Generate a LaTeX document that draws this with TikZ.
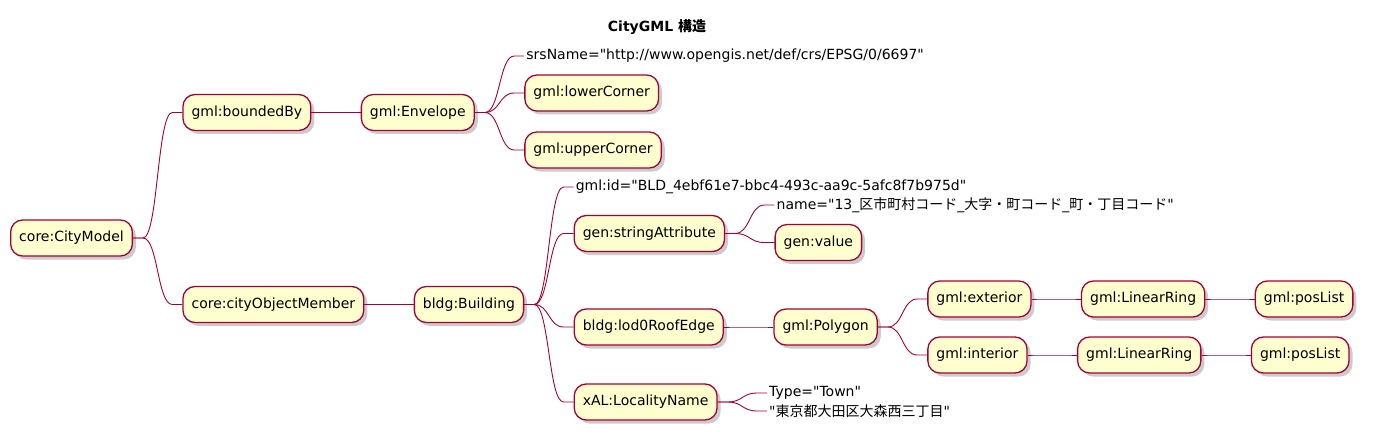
\documentclass[tikz,border=0pt]{standalone}
\usepackage{fontspec}
\setmainfont{DejaVu Sans}
\newfontfamily\jp{Noto Sans CJK JP}
\usepackage{xcolor}
\usetikzlibrary{positioning, shadows, math}
\definecolor{mmfill}{HTML}{FEFECE}
\definecolor{mmline}{HTML}{A80036}
\newcommand\qt{\textquotedbl}

\tikzset{
mmnode/.style={draw=mmline, fill=mmfill, line width=1.3pt, rounded corners=12pt,
  minimum height=36pt, inner xsep=8.6pt, font=\fontsize{14}{16}\selectfont,
  drop shadow={shadow xshift=3.5pt, shadow yshift=-3.5pt, opacity=0.4}},
mmtext/.style={inner xsep=2pt, inner ysep=1pt, font=\fontsize{14}{16}\selectfont},
mmlink/.style={draw=mmline, line width=0.9pt},
branch/.style={to path={-- ++(10pt,0) .. controls +(15pt,0) and ([xshift=-25pt]\tikztotarget)
  .. ([xshift=-10pt]\tikztotarget) -- (\tikztotarget)}}
}

\begin{document}
\begin{tikzpicture}[x=1pt, y=-1pt, node distance=49.3pt]
\tikzmath{
\W=1373;
\H=441;
}
\useasboundingbox (0,0) rectangle (\W,\H);

\node[font=\fontsize{14}{16}\selectfont\bfseries] (title) at (657,27) {CityGML {\jp\bfseries 構造}};

\node[mmnode, anchor=west] (city) at (10,238) {core:CityModel};

\node[mmnode, right=of city, yshift=125.5pt] (bnd) {gml:boundedBy};
\node[mmnode, right=of bnd] (env) {gml:Envelope};
\node[mmtext, right=of env, yshift=56.5pt] (srs) {srsName=\qt http://www.opengis.net/def/crs/EPSG/0/6697\qt};
\node[mmnode, right=of env, yshift=19.5pt] (low) {gml:lowerCorner};
\node[mmnode, right=of env, yshift=-37.5pt] (upp) {gml:upperCorner};

\node[mmnode, right=of city, yshift=-66.5pt] (com) {core:cityObjectMember};
\node[mmnode, right=of com] (bld) {bldg:Building};
\node[mmtext, right=of bld, yshift=117.5pt] (gid) {gml:id=\qt BLD\_4ebf61e7-bbc4-493c-aa9c-5afc8f7b975d\qt};
\node[mmnode, right=of bld, yshift=71pt] (str) {gen:stringAttribute};
\node[mmtext, right=of str, yshift=28.5pt] (nam) {name=\qt 13\_{\jp 区市町村コード}\_{\jp 大字・町コード}\_{\jp 町・丁目コード}\qt};
\node[mmnode, right=of str, yshift=-9pt] (val) {gen:value};

\node[mmnode, right=of bld, yshift=-22.5pt] (roof) {bldg:lod0RoofEdge};
\node[mmnode, right=of roof] (poly) {gml:Polygon};
\node[mmnode, right=of poly, yshift=28pt] (ext) {gml:exterior};
\node[mmnode, right=of ext] (ringa) {gml:LinearRing};
\node[mmnode, right=of ringa] (posa) {gml:posList};
\node[mmnode, right=of poly, yshift=-28pt] (int) {gml:interior};
\node[mmnode, right=of int] (ringb) {gml:LinearRing};
\node[mmnode, right=of ringb] (posb) {gml:posList};

\node[mmnode, right=of bld, yshift=-97.5pt] (loc) {xAL:LocalityName};
\node[mmtext, right=of loc, yshift=9pt] (typ) {Type=\qt Town\qt};
\node[mmtext, right=of loc, yshift=-9pt] (adr) {\qt{\jp 東京都大田区大森西三丁目}\qt};

\draw[mmlink] (city.east) to[branch] (bnd.west);
\draw[mmlink] (city.east) to[branch] (com.west);
\draw[mmlink] (bnd.east) to[branch] (env.west);
\draw[mmlink] (env.east) to[branch] (srs.west);
\draw[mmlink] (env.east) to[branch] (low.west);
\draw[mmlink] (env.east) to[branch] (upp.west);
\draw[mmlink] (com.east) to[branch] (bld.west);
\draw[mmlink] (bld.east) to[branch] (gid.west);
\draw[mmlink] (bld.east) to[branch] (str.west);
\draw[mmlink] (bld.east) to[branch] (roof.west);
\draw[mmlink] (bld.east) to[branch] (loc.west);
\draw[mmlink] (str.east) to[branch] (nam.west);
\draw[mmlink] (str.east) to[branch] (val.west);
\draw[mmlink] (roof.east) to[branch] (poly.west);
\draw[mmlink] (poly.east) to[branch] (ext.west);
\draw[mmlink] (poly.east) to[branch] (int.west);
\draw[mmlink] (ext.east) to[branch] (ringa.west);
\draw[mmlink] (ringa.east) to[branch] (posa.west);
\draw[mmlink] (int.east) to[branch] (ringb.west);
\draw[mmlink] (ringb.east) to[branch] (posb.west);
\draw[mmlink] (loc.east) to[branch] (typ.west);
\draw[mmlink] (loc.east) to[branch] (adr.west);

\end{tikzpicture}
\end{document}
